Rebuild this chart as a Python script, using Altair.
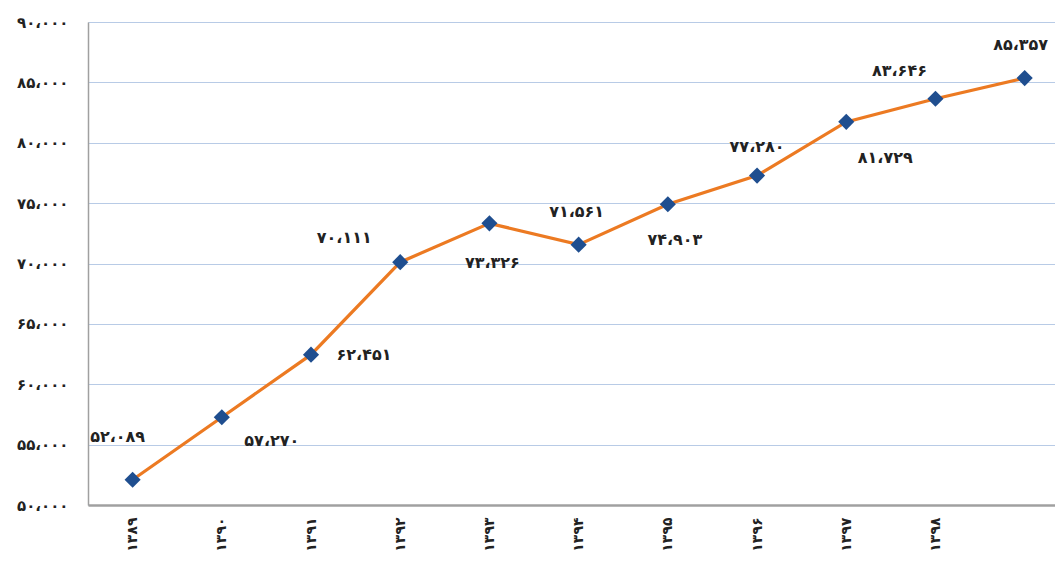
import altair as alt
import pandas as pd

# ---- data ----
years = ["۱۳۸۹", "۱۳۹۰", "۱۳۹۱", "۱۳۹۲", "۱۳۹۳", "۱۳۹۴", "۱۳۹۵", "۱۳۹۶", "۱۳۹۷", "۱۳۹۸", ""]
values = [52089, 57270, 62451, 70111, 73326, 71561, 74903, 77280, 81729, 83646, 85357]
value_labels = ["۵۲،۰۸۹", "۵۷،۲۷۰", "۶۲،۴۵۱", "۷۰،۱۱۱", "۷۳،۳۲۶", "۷۱،۵۶۱",
                "۷۴،۹۰۳", "۷۷،۲۸۰", "۸۱،۷۲۹", "۸۳،۶۴۶", "۸۵،۳۵۷"]
y_ticks = [50000, 55000, 60000, 65000, 70000, 75000, 80000, 85000, 90000]
y_tick_labels = ["۵۰،۰۰۰", "۵۵،۰۰۰", "۶۰،۰۰۰", "۶۵،۰۰۰", "۷۰،۰۰۰",
                 "۷۵،۰۰۰", "۸۰،۰۰۰", "۸۵،۰۰۰", "۹۰،۰۰۰"]

# ---- layout (label offsets, px) ----
label_dx = [-15, 50, 53, -56, 3, -2, 7, 0, 39, -36, -4]
label_dy = [-43, 24, 0, -24, 40, -33, 36, -29, 36, -28, -33]

df = pd.DataFrame({"i": list(range(len(values))), "year": years,
                   "value": values, "label": value_labels})

FONT = "DejaVu Sans"
x_label_expr = "[" + ",".join(f"'{y}'" for y in years) + "][datum.value]"
y_label_expr = "[" + ",".join(f"'{t}'" for t in y_tick_labels) + f"][round((datum.value-{y_ticks[0]})/5000)]"

x = alt.X("i:Q", scale=alt.Scale(domain=[-0.5, 10.34], nice=False, zero=False),
          axis=alt.Axis(values=list(range(10)), labelExpr=x_label_expr, labelAngle=-90,
                        grid=False, ticks=False, labelPadding=12, labelFont=FONT,
                        labelFontSize=14, labelFontWeight="bold", labelColor="#222",
                        domainColor="#a0a0a0", domainWidth=2.5, title=None))
y = alt.Y("value:Q", scale=alt.Scale(domain=[50000, 90000], nice=False, zero=False),
          axis=alt.Axis(values=y_ticks, labelExpr=y_label_expr, grid=True,
                        gridColor="#b8cbe6", gridWidth=1.2, ticks=False, labelPadding=20,
                        labelFont=FONT, labelFontSize=15, labelFontWeight="bold",
                        labelColor="#222", domainColor="#a0a0a0", domainWidth=1.5, title=None))

base = alt.Chart(df)
line = base.mark_line(color="#ec7a22", strokeWidth=3.2).encode(x=x, y=y)
pts = base.mark_point(shape="diamond", filled=True, size=260, color="#1f4e8f", opacity=1).encode(x=x, y=y)

layers = [line, pts]
for k in range(len(values)):
    layers.append(
        base.transform_filter(alt.datum.i == k).mark_text(
            dx=label_dx[k], dy=label_dy[k], font=FONT, fontSize=16, fontWeight="bold",
            color="#222", align="center", baseline="middle"
        ).encode(x=x, y=y, text="label:N")
    )

chart = alt.layer(*layers).properties(
    width=967, height=483,
    autosize=alt.AutoSizeParams(type="none"),
    padding={"left": 80, "top": 14, "right": 0, "bottom": 52},
).configure_view(stroke=None).configure(background="white")

chart.save("out.html", embed_options={"renderer": "svg", "actions": False})
